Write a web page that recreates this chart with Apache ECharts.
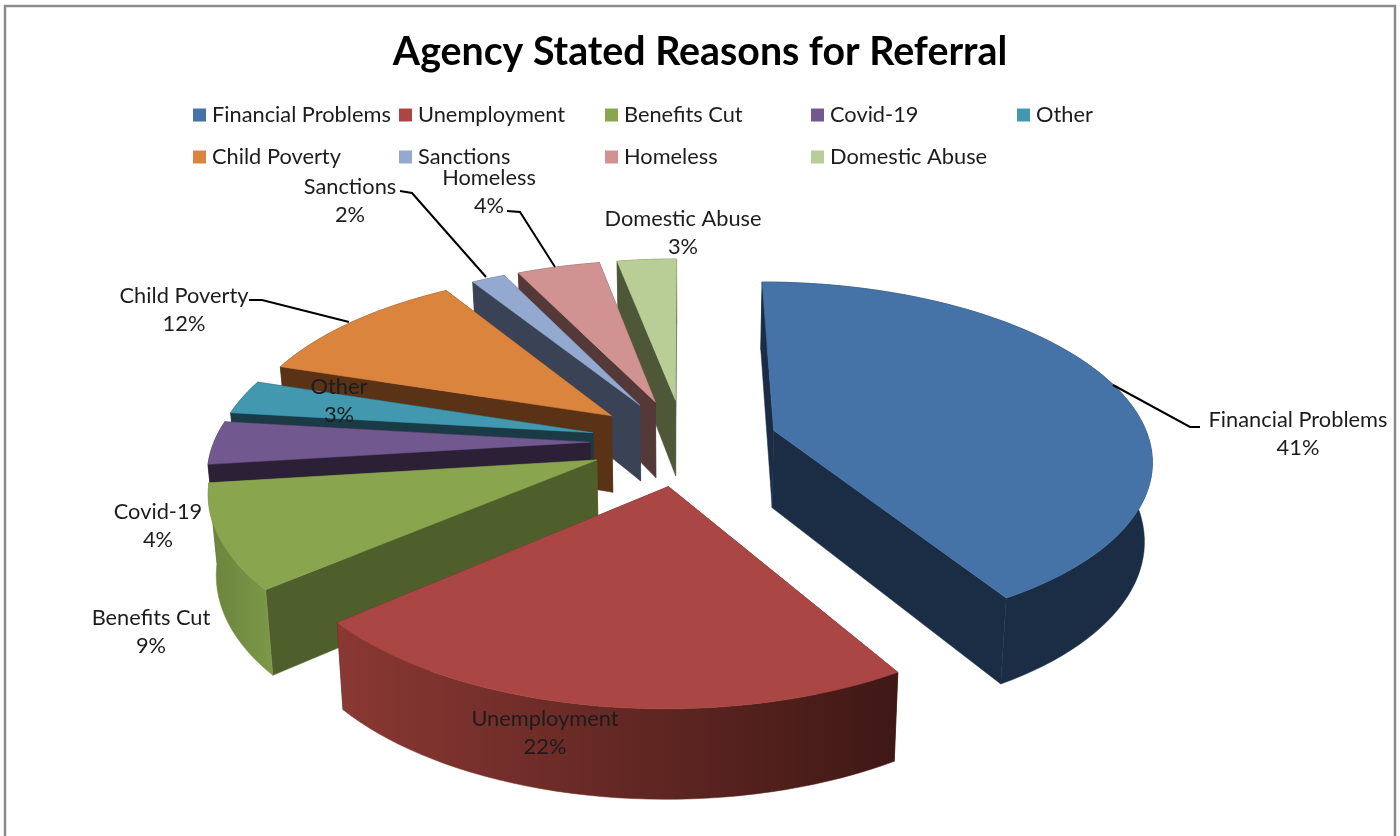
<!DOCTYPE html>
<html><head><meta charset="utf-8">
<style>html,body{margin:0;padding:0;background:#fff}#c{width:1400px;height:836px}</style>
<script src="https://cdn.jsdelivr.net/npm/echarts@6/dist/echarts.min.js"></script>
</head><body><div id="c"></div>
<script>
const categories = ['Financial Problems','Unemployment','Benefits Cut','Covid-19','Other','Child Poverty','Sanctions','Homeless','Domestic Abuse'];
const percentLabels = [41,22,9,4,3,12,2,4,3];
const values = [41.4,22.3,9.3,3.9,3.1,11.1,1.7,4.2,3.0];
const topColors = ['#4572A7','#AA4643','#89A54E','#71588F','#4198AF','#DB843D','#93A9CF','#D19392','#B9CD96'];
const faceColors = ['#1a2d45','#5a201e','#4e5f2c','#2c2036','#1a3b45','#5a3316','#3a4356','#553838','#4e5738'];
const wallLeft = ['#1a2d45','#8a3833','#6a843c','#2c2036','#1a3b45','#5a3316','#3a4356','#553838','#4e5738'];
const wallRight = ['#1a2d45','#3f1815','#7c9848','#2c2036','#1a3b45','#5a3316','#3a4356','#553838','#4e5738'];
const drawOrder = [8,7,6,5,4,3,2,1,0];
const legendCols = [193,399,605,811,1017,193,399,605,811];
const legendRows = [104,104,104,104,104,146,146,146,146];
const labelPos = [[1298,434],[545,733],[151,632],[158,526],[339,401],[184,310],[350,201],[489,192],[683,233]];
const leaders = [
  [[1113,385],[1190,427],[1200,427]],
  [[249,300],[262,300],[349,322]],
  [[400,191],[412,193],[486,277]],
  [[507,211],[520,212],[555,267]]
];
const view = {cx:684, cy:442, R:376, ry:174, p:0.15, explode:0.25};
const total = values.reduce((a,b)=>a+b,0);

function project(u,v,h){
  const k = 1/(1-view.p*v);
  const shrink = 1-0.017*h;
  return [view.cx+view.R*u*k*shrink, view.cy+view.ry*v*k+h*(78+10*v)];
}
function sliceRange(i){
  let s=0; for(let j=0;j<i;j++) s+=values[j];
  return [s/total*2*Math.PI,(s+values[i])/total*2*Math.PI];
}
function renderSlice(i){
  const [a0,a1]=sliceRange(i);
  const mid=(a0+a1)/2;
  const ou=Math.sin(mid)*view.explode, ov=-Math.cos(mid)*view.explode;
  const n=Math.max(6,Math.ceil((a1-a0)/(Math.PI/90)));
  const arc=[];
  for(let t=0;t<=n;t++){
    const a=a0+(a1-a0)*t/n;
    arc.push([ou+Math.sin(a),ov-Math.cos(a)]);
  }
  const P=(q,h)=>project(q[0],q[1],h);
  const tip=[ou,ov];
  const face=q=>[P(tip,0),P(q,0),P(q,1),P(tip,1)];
  const wall=arc.map(q=>P(q,0)).concat(arc.slice().reverse().map(q=>P(q,1)));
  const top=[P(tip,0)].concat(arc.map(q=>P(q,0)));
  const fill={type:'linear',x:0,y:0,x2:1,y2:0,colorStops:[{offset:0,color:wallLeft[i]},{offset:1,color:wallRight[i]}]};
  const poly=(points,f)=>({type:'polygon',shape:{points},style:{fill:f,stroke:f,lineWidth:0.5}});
  return {type:'group',children:[
    poly(face(arc[0]),faceColors[i]),
    poly(face(arc[n]),faceColors[i]),
    poly(wall,fill),
    poly(top,topColors[i])
  ]};
}
const font='Lato, "Open Sans", sans-serif';
const graphicEls=[{type:'rect',shape:{x:5,y:6,width:1390,height:900},style:{fill:'none',stroke:'#8c8c8c',lineWidth:2.5},z:0}];
leaders.forEach(pts=>graphicEls.push({type:'polyline',shape:{points:pts},style:{fill:'none',stroke:'#000',lineWidth:2},z:20}));
categories.forEach((c,i)=>graphicEls.push({type:'text',x:labelPos[i][0],y:labelPos[i][1],z:21,
  style:{text:c+'\n'+percentLabels[i]+'%',fill:'#1c1c1c',font:'21.8px '+font,align:'center',verticalAlign:'middle',lineHeight:28.5}}));

const chart=echarts.init(document.getElementById('c'));
chart.setOption({
  animation:false,
  backgroundColor:'#fff',
  title:{text:'Agency Stated Reasons for Referral',left:'center',top:28,textStyle:{fontFamily:font,fontWeight:'bold',fontSize:39.3,color:'#000'}},
  legend:categories.map((c,i)=>({data:[c],left:legendCols[i],top:legendRows[i],padding:0,icon:'rect',itemWidth:13,itemHeight:13,itemGap:6,selectedMode:false,
    textStyle:{fontFamily:font,fontSize:21.8,color:'#1c1c1c',padding:[0,0,0,1]}})),
  graphic:{elements:graphicEls},
  series:drawOrder.map(i=>({
    type:'custom',name:categories[i],coordinateSystem:'none',data:[[values[i]]],silent:true,
    itemStyle:{color:topColors[i]},
    renderItem:()=>renderSlice(i)
  }))
});
</script></body></html>
